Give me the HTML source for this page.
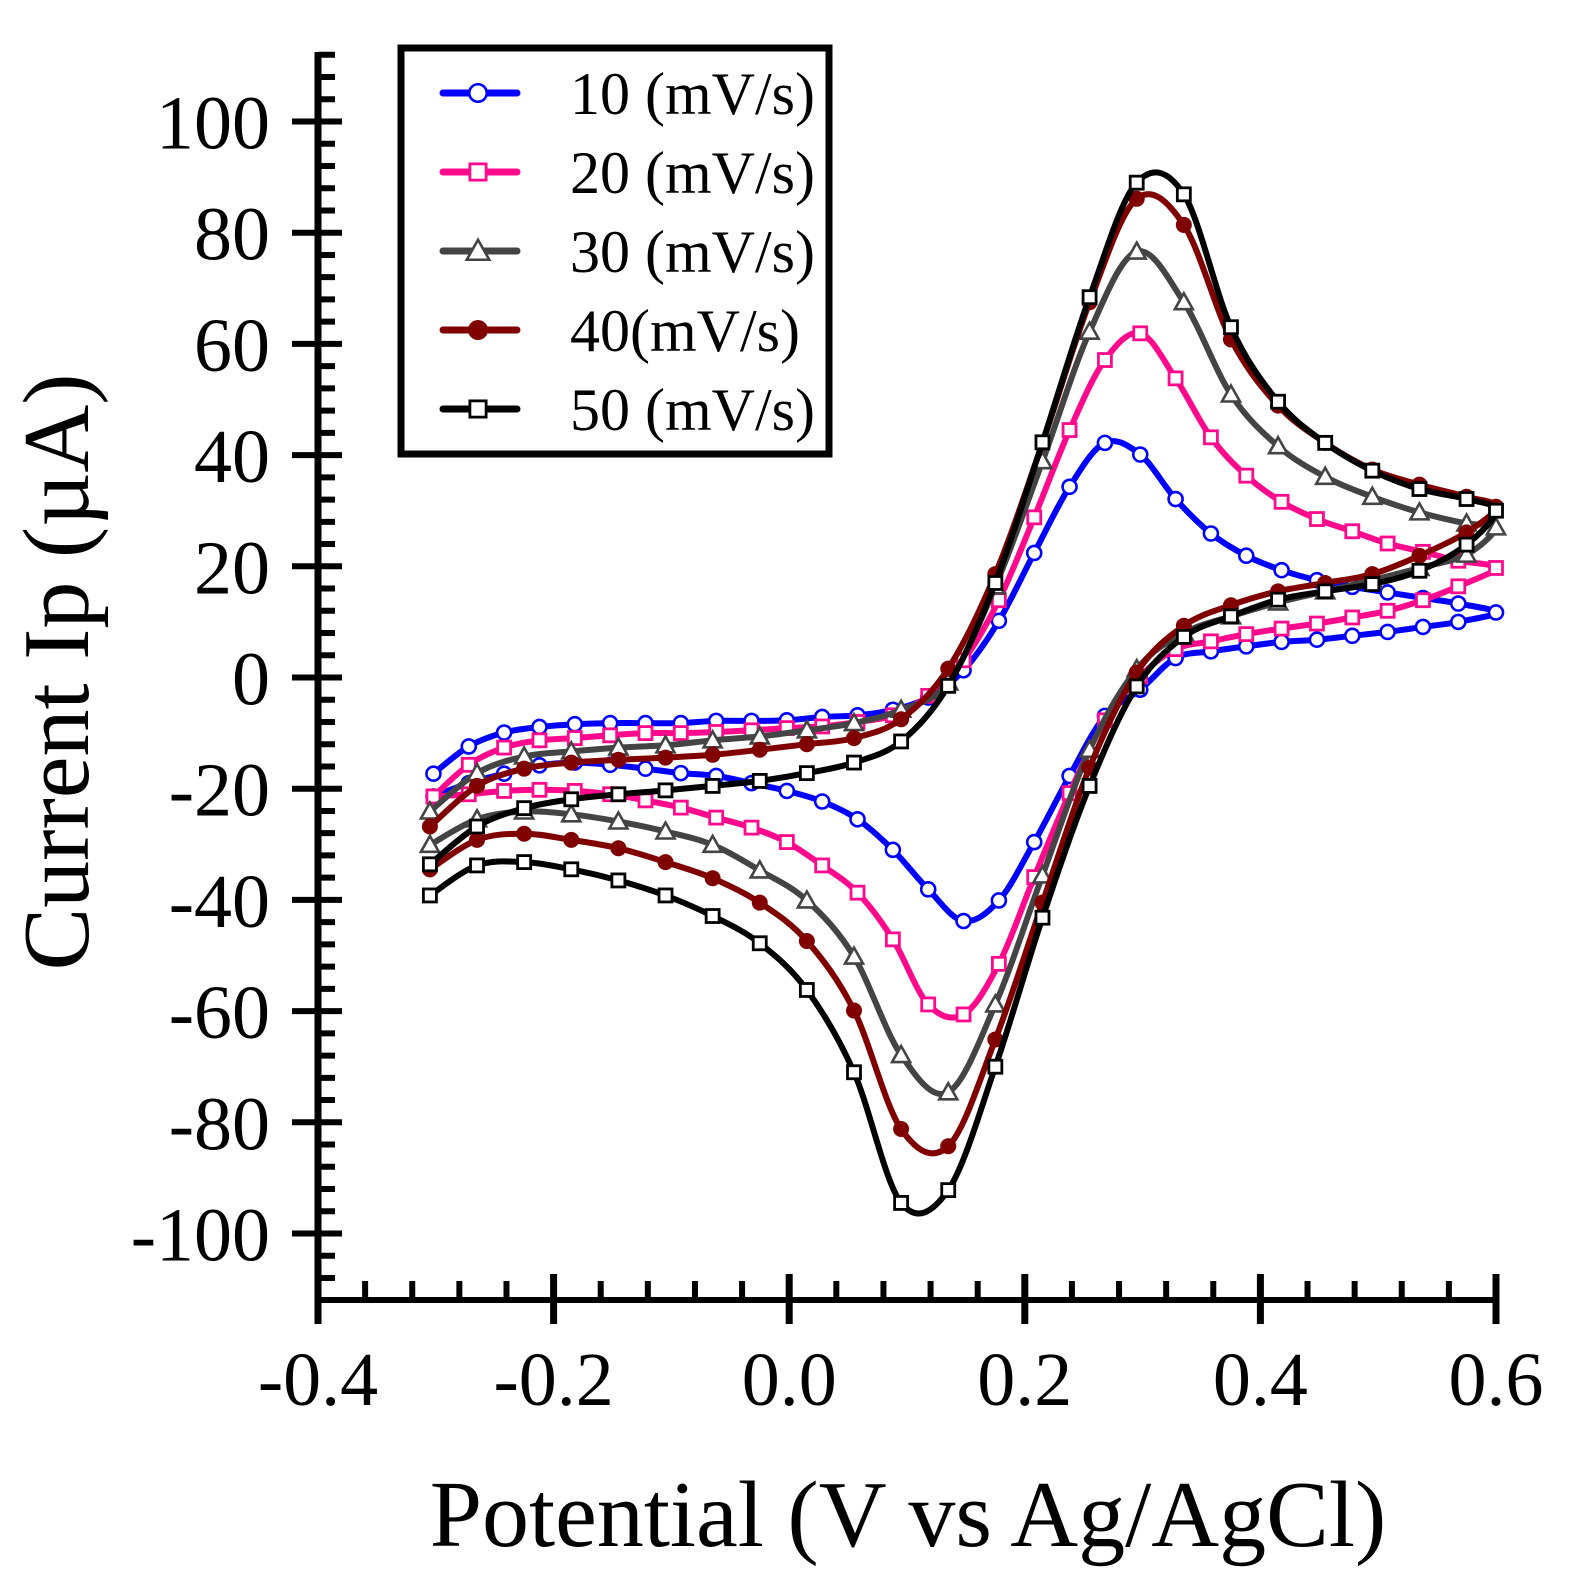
<!DOCTYPE html>
<html><head><meta charset="utf-8"><title>Cyclic voltammetry chart</title>
<style>html,body{margin:0;padding:0;background:#fff;}svg{display:block;}</style>
</head><body>
<svg id="chart" width="1575" height="1593" viewBox="0 0 1575 1593" xmlns="http://www.w3.org/2000/svg" font-family="'Liberation Serif', serif">
<rect width="1575" height="1593" fill="#fff"/>
<g id="axes"></g>
<g id="series"></g>
<g id="legend"></g>
</svg>
<script>
// ---- data ----
const E03up = [-0.302,-0.272,-0.242,-0.212,-0.182,-0.152,-0.122,-0.092,-0.062,-0.032,-0.002,0.028,0.058,0.088,0.118,0.148,0.178,0.208,0.238,0.268,0.298,0.328,0.358,0.388,0.418,0.448,0.478,0.508,0.538,0.568,0.6];
const E03down = [0.568,0.538,0.508,0.478,0.448,0.418,0.388,0.358,0.328,0.298,0.268,0.238,0.208,0.178,0.148,0.118,0.088,0.058,0.028,-0.002,-0.032,-0.062,-0.092,-0.122,-0.152,-0.182,-0.212,-0.242,-0.272,-0.302];
const E04up = [-0.305,-0.265,-0.225,-0.185,-0.145,-0.105,-0.065,-0.025,0.015,0.055,0.095,0.135,0.175,0.215,0.255,0.295,0.335,0.375,0.415,0.455,0.495,0.535,0.575,0.6];
const E04down = [0.575,0.535,0.495,0.455,0.415,0.375,0.335,0.295,0.255,0.215,0.175,0.135,0.095,0.055,0.015,-0.025,-0.065,-0.105,-0.145,-0.185,-0.225,-0.265,-0.305];

const I10up = [-17.3,-12.4,-9.9,-8.9,-8.4,-8.2,-8.2,-8.2,-7.8,-7.8,-7.7,-7.1,-6.8,-5.8,-3.6,1.3,10.2,22.4,34.3,42.2,40.1,32.1,25.9,21.9,19.3,17.5,16.3,15.3,14.3,13.3,11.7];
const I10down = [10,9.1,8.2,7.5,6.8,6.4,5.6,4.7,3.5,-2.2,-6.9,-17.7,-29.6,-40.1,-43.8,-38.1,-31,-25.5,-22.3,-20.4,-19,-17.7,-17.2,-16.4,-15.7,-15.3,-15.8,-17.3,-19,-21.4];
const I20up = [-21.4,-15.7,-12.6,-11.3,-10.9,-10.4,-10,-10,-9.8,-9.5,-9.1,-8.8,-8.0,-6.8,-3.3,3.1,13.9,28.8,44.5,57.1,61.9,53.8,43.2,36.3,31.6,28.5,26.3,24.1,22.6,21,19.7];
const I20down = [16.4,13.9,12,10.8,9.7,8.8,7.8,6.5,5.1,0.2,-7.7,-20.8,-35.9,-51.5,-60.6,-58.8,-47.1,-38.7,-33.8,-29.6,-27,-25.2,-23.4,-22.1,-21,-20.4,-20.2,-20.4,-21,-21.4];
const I30up = [-24.1,-17.2,-14.2,-13.3,-12.6,-12.2,-11.3,-10.6,-9.5,-8.2,-5.8,-0.9,16.4,38.9,62.2,76.6,67.5,50.9,41.6,36.1,32.5,29.7,27.7,27];
const I30down = [22.1,19.7,17.5,15.5,13.5,11,8,1.5,-13,-35.6,-58.8,-74.6,-67.9,-50.2,-40.1,-34.7,-30.1,-27.7,-25.9,-24.6,-24.1,-25.5,-30.1];
const I40up = [-26.8,-19.5,-16.4,-15.3,-14.8,-14.4,-13.9,-13,-12,-10.9,-7.5,1.6,18.6,42.2,67.5,86.1,81.4,60.8,48.9,42.2,37.4,34.7,32.5,30.7];
const I40down = [26.1,21.9,18.6,17,15.5,13,9.3,0.9,-16.2,-40.5,-65.1,-84.3,-81.2,-59.9,-47.4,-40.5,-36.1,-33.2,-30.7,-29.2,-28.1,-29.2,-34.5];
const I50up = [-33.6,-26.8,-23.5,-21.9,-21,-20.3,-19.5,-18.6,-17.2,-15.3,-11.5,-1.5,17,42.3,68.4,89,86.9,63,49.6,42.2,37.2,33.9,32.1,30];
const I50down = [23.9,19.2,16.8,15.5,14,11,7.3,-1.6,-19.5,-43.2,-70,-92.2,-94.5,-71,-56.2,-47.8,-42.9,-39.2,-36.5,-34.5,-33.2,-33.8,-39.2];

const seriesNames = ["10 (mV/s)","20 (mV/s)","30 (mV/s)","40(mV/s)","50 (mV/s)"];
const xTickLabels = ["-0.4","-0.2","0.0","0.2","0.4","0.6"];
const xTickValues = [-0.4,-0.2,0,0.2,0.4,0.6];
const yTickValues = [-100,-80,-60,-40,-20,0,20,40,60,80,100];

// ---- scales ----
const X0 = 318, XPU = 1178, Y0 = 677.5, YPU = 5.56;
function sx(e){ return X0 + (e + 0.4) * XPU; }
function sy(i){ return Y0 - i * YPU; }

const NS = "http://www.w3.org/2000/svg";
function mk(tag, attrs, parent){
  const el = document.createElementNS(NS, tag);
  for (const k in attrs) el.setAttribute(k, attrs[k]);
  parent.appendChild(el);
  return el;
}

// ---- axes ----
const axes = document.getElementById('axes');
const AXB = 1300, AXT = 52, AXR = 1496;
let el;
el = mk('line', {x1:X0, y1:AXT, x2:X0, y2:AXB+3, stroke:'#000','stroke-width':7}, axes);


el = mk('line', {x1:X0-3, y1:AXB, x2:AXR+3, y2:AXB, stroke:'#000','stroke-width':6}, axes);



for (let v = -108; v <= 112; v += 4) {
  if (v % 20 === 0) continue;
  el = mk('line', {x1:X0, y1:sy(v), x2:335, y2:sy(v), stroke:'#000','stroke-width':6}, axes);
  
  
}
yTickValues.forEach(v => {
  el = mk('line', {x1:292, y1:sy(v), x2:342, y2:sy(v), stroke:'#000','stroke-width':6}, axes);
  
  
  el = mk('text', {x:270, y:sy(v)+27, 'text-anchor':'end','font-size':76, fill:'#000'}, axes);
  el.textContent = String(v);
  
  
});
for (let k = 1; k < 25; k++) {
  if (k % 5 === 0) continue;
  const e = -0.4 + k * 0.04;
  el = mk('line', {x1:sx(e), y1:AXB, x2:sx(e), y2:1281, stroke:'#000','stroke-width':6}, axes);
  
  
}
xTickValues.forEach((v, i) => {
  el = mk('line', {x1:sx(v), y1:1274, x2:sx(v), y2:1324, stroke:'#000','stroke-width':7}, axes);
  
  
  el = mk('text', {x:sx(v), y:1405, 'text-anchor':'middle','font-size':76, fill:'#000'}, axes);
  el.textContent = xTickLabels[i];
  
  
});
el = mk('text', {x:908, y:1546, 'text-anchor':'middle','font-size':94, fill:'#000'}, axes);
el.textContent = 'Potential (V vs Ag/AgCl)';


el = mk('text', {x:0, y:0, 'text-anchor':'middle','font-size':94, fill:'#000', transform:'translate(88,672) rotate(-90)'}, axes);
el.textContent = 'Current Ip (\u00b5A)';



// ---- series ----
const seriesDefs = [
  {E:E03up.concat(E03down), I:I10up.concat(I10down), color:'#0000ff', m:'circle-open'},
  {E:E03up.concat(E03down), I:I20up.concat(I20down), color:'#ff0a8c', m:'square-open'},
  {E:E04up.concat(E04down), I:I30up.concat(I30down), color:'#444444', m:'tri-open'},
  {E:E04up.concat(E04down), I:I40up.concat(I40down), color:'#800000', m:'circle-fill'},
  {E:E04up.concat(E04down), I:I50up.concat(I50down), color:'#000000', m:'square-open'}
];

function smoothPath(pts){
  let d = 'M' + pts[0][0].toFixed(1) + ',' + pts[0][1].toFixed(1);
  for (let i = 0; i < pts.length - 1; i++) {
    const p0 = pts[Math.max(0,i-1)], p1 = pts[i], p2 = pts[i+1], p3 = pts[Math.min(pts.length-1,i+2)];
    const t = 1/6;
    const c1x = p1[0] + (p2[0]-p0[0])*t, c1y = p1[1] + (p2[1]-p0[1])*t;
    const c2x = p2[0] - (p3[0]-p1[0])*t, c2y = p2[1] - (p3[1]-p1[1])*t;
    d += ' C' + c1x.toFixed(1) + ',' + c1y.toFixed(1) + ' ' + c2x.toFixed(1) + ',' + c2y.toFixed(1) + ' ' + p2[0].toFixed(1) + ',' + p2[1].toFixed(1);
  }
  return d;
}

function drawMarker(kind, cx, cy, color, parent, scale){
  const s = scale || 1;
  let m;
  if (kind === 'circle-open') m = mk('circle', {cx:cx, cy:cy, r:7*s, fill:'#fff', stroke:color, 'stroke-width':2.6}, parent);
  else if (kind === 'circle-fill') m = mk('circle', {cx:cx, cy:cy, r:8*s, fill:color}, parent);
  else if (kind === 'square-open') m = mk('rect', {x:cx-6.5*s, y:cy-6.5*s, width:13*s, height:13*s, fill:'#fff', stroke:color, 'stroke-width':2.8}, parent);
  else m = mk('polygon', {points:(cx)+','+(cy-9*s)+' '+(cx+9*s)+','+(cy+7*s)+' '+(cx-9*s)+','+(cy+7*s), fill:'#fff', stroke:color, 'stroke-width':2.6}, parent);
  return m;
}

const sg = document.getElementById('series');
seriesDefs.forEach((s, si) => {
  const g = mk('g', {}, sg);
  
  
  const pts = s.E.map((e, i) => [sx(e), sy(s.I[i])]);
  const p = mk('path', {d:smoothPath(pts), fill:'none', stroke:s.color, 'stroke-width':6, 'stroke-linejoin':'round','stroke-linecap':'round'}, g);
  
  
  pts.forEach(pt => {
    const m = drawMarker(s.m, pt[0], pt[1], s.color, g, 1);
    
    
  });
});

// ---- legend ----
const lg = document.getElementById('legend');
el = mk('rect', {x:401, y:48, width:428, height:406, fill:'#fff', stroke:'#000', 'stroke-width':7}, lg);


seriesDefs.forEach((s, si) => {
  const cy = 93 + si * 79;
  const g = mk('g', {}, lg);
  
  
  mk('line', {x1:443, y1:cy, x2:517, y2:cy, stroke:s.color, 'stroke-width':7, 'stroke-linecap':'round'}, g);
  drawMarker(s.m, 478, cy, s.color, g, 1.25);
  const t = mk('text', {x:570, y:cy+21, 'font-size':60, fill:'#000'}, g);
  t.textContent = seriesNames[si];
});
</script>
</body></html>
